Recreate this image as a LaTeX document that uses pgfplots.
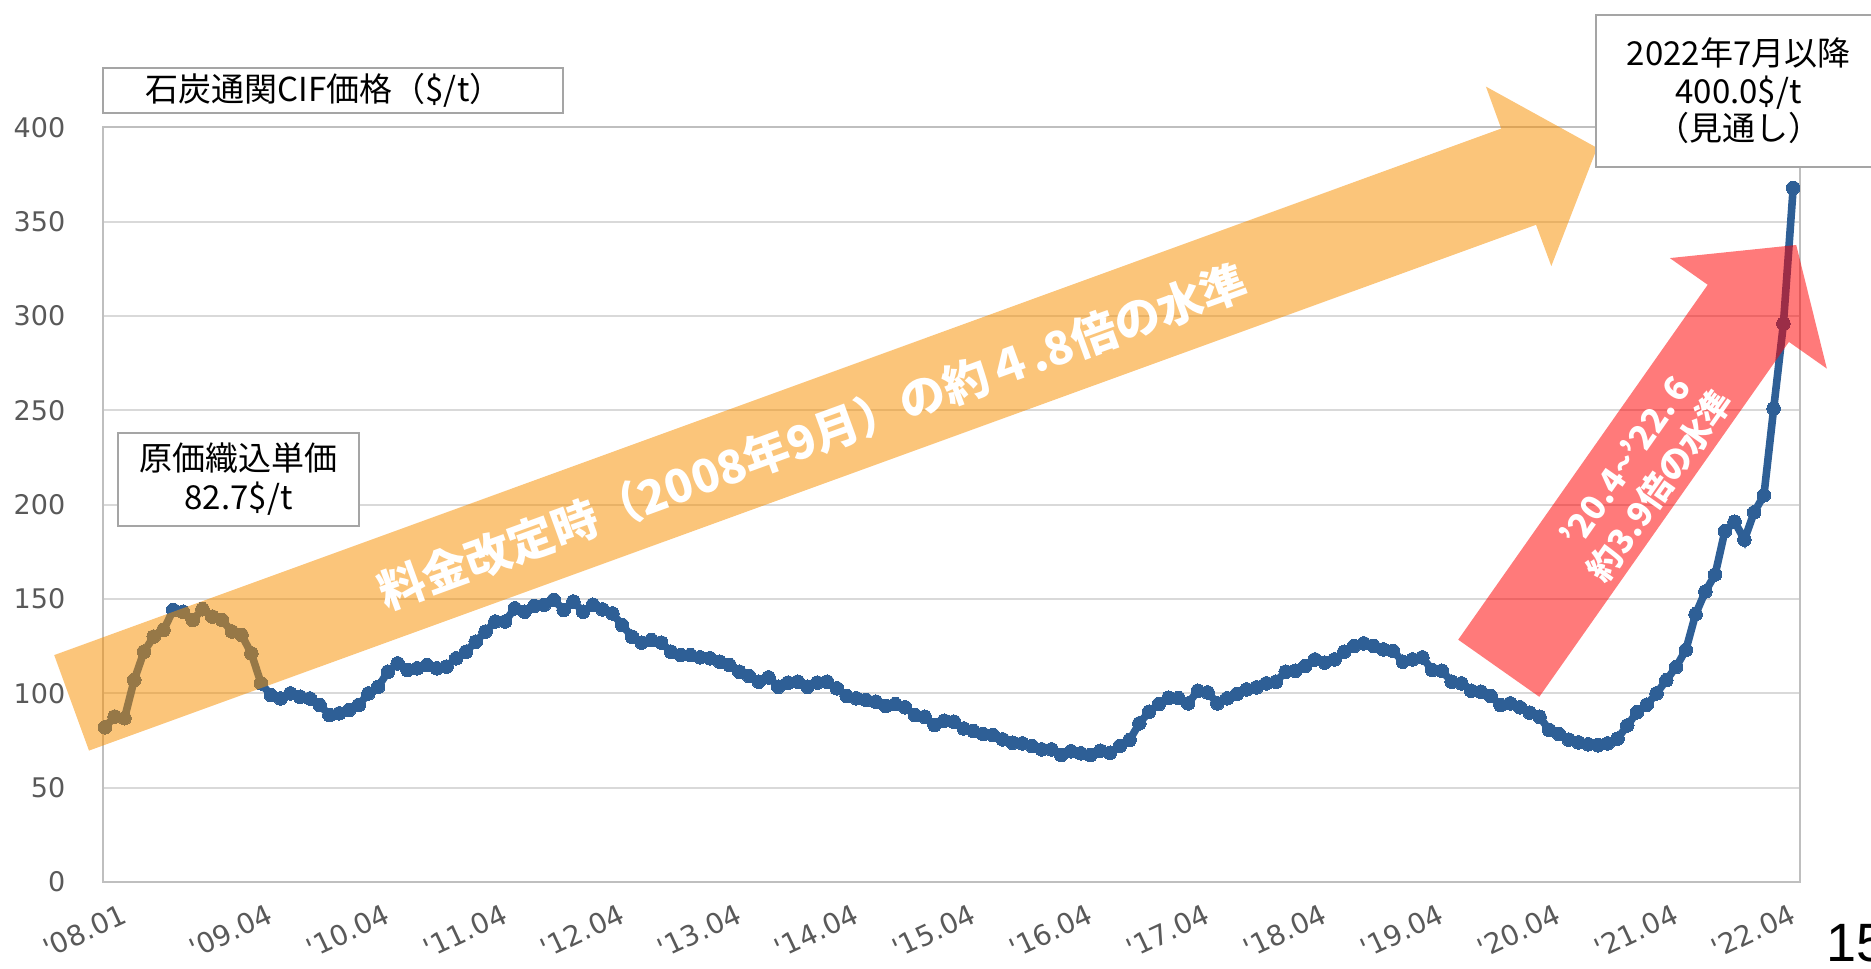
\documentclass[border=0pt]{standalone}
\usepackage{pgfplots}
\usepackage{pgfplotstable}
\pgfplotsset{compat=1.18}
\usepackage{fontspec}
\setmainfont{DejaVu Sans}
\newfontfamily\cjk{Noto Sans CJK JP}
\newfontfamily\arial{Liberation Sans}
\definecolor{lineblue}{RGB}{46,95,150}
\definecolor{tickgray}{RGB}{89,89,89}
\definecolor{gridgray}{RGB}{217,217,217}
\definecolor{framegray}{RGB}{191,191,191}
\definecolor{boxgray}{RGB}{165,165,165}
\definecolor{arroworange}{RGB}{247,143,0}
\definecolor{arrowred}{RGB}{255,0,0}

\pgfplotstableread{
i v
0 82.0
1 87.7
2 86.8
3 107.1
4 122.1
5 130.1
6 133.6
7 144.2
8 143.3
9 138.9
10 144.6
11 140.7
12 138.9
13 132.8
14 131.0
15 121.2
16 105.3
17 99.1
18 97.3
19 100.0
20 98.2
21 97.3
22 93.8
23 88.5
24 89.4
25 91.1
26 93.8
27 100.0
28 103.5
29 111.5
30 115.9
31 112.4
32 113.3
33 115.0
34 113.3
35 114.2
36 118.6
37 122.1
38 127.4
39 132.8
40 138.1
41 138.1
42 145.1
43 143.3
44 146.4
45 146.9
46 149.6
47 144.2
48 148.7
49 143.3
50 147.0
51 144.5
52 142.4
53 136.2
54 130.1
55 126.9
56 128.3
57 126.9
58 122.1
59 120.3
60 120.3
61 119.1
62 118.6
63 116.8
64 115.0
65 111.5
66 109.2
67 106.2
68 108.5
69 103.5
70 105.7
71 106.2
72 103.5
73 105.7
74 106.2
75 102.7
76 98.6
77 97.4
78 96.5
79 95.6
80 93.3
81 94.3
82 92.6
83 88.5
84 87.6
85 83.2
86 85.5
87 85.0
88 81.4
89 80.0
90 78.4
91 77.9
92 75.6
93 73.8
94 73.5
95 72.1
96 70.3
97 70.3
98 67.3
99 69.3
100 68.2
101 67.3
102 69.6
103 68.5
104 72.1
105 75.3
106 84.1
107 90.3
108 94.3
109 97.7
110 97.5
111 94.7
112 101.4
113 100.5
114 94.7
115 97.4
116 99.7
117 102.1
118 103.2
119 105.3
120 106.2
121 111.5
122 112.0
123 114.5
124 118.0
125 116.3
126 118.0
127 122.1
128 125.1
129 126.5
130 125.1
131 123.3
132 122.5
133 116.8
134 118.0
135 119.1
136 112.4
137 112.0
138 106.2
139 105.3
140 101.4
141 100.9
142 98.6
143 93.8
144 94.7
145 92.6
146 89.8
147 87.6
148 80.6
149 78.4
150 75.5
151 74.0
152 73.0
153 72.5
154 73.5
155 76.0
156 83.0
157 90.0
158 94.0
159 100.0
160 107.0
161 114.0
162 123.0
163 142.0
164 154.0
165 163.0
166 186.0
167 191.0
168 181.5
169 196.0
170 205.0
171 251.0
172 296.0
173 368.0
}\coal

\begin{document}
\begin{tikzpicture}
\useasboundingbox (0pt,0pt) rectangle (935.5pt,484pt);
\begin{axis}[
  at={(51.5pt,43pt)}, anchor=south west,
  scale only axis, width=848.5pt, height=377.25pt,
  xmin=-0.2, xmax=173.7, ymin=0, ymax=400,
  ytick={0,50,100,150,200,250,300,350,400},
  xtick={0,15,27,39,51,63,75,87,99,111,123,135,147,159,171},
  xticklabels={\textquotesingle08.01,\textquotesingle09.04,\textquotesingle10.04,\textquotesingle11.04,\textquotesingle12.04,\textquotesingle13.04,\textquotesingle14.04,\textquotesingle15.04,\textquotesingle16.04,\textquotesingle17.04,\textquotesingle18.04,\textquotesingle19.04,\textquotesingle20.04,\textquotesingle21.04,\textquotesingle22.04},
  ymajorgrids,
  major grid style={gridgray, line width=1pt},
  axis line style={framegray, line width=1pt},
  tick style={draw=none},
  /pgf/number format/assume math mode=true,
  yticklabel style={inner sep=0pt, xshift=-18.7pt, font=\fontsize{13.5}{16}\selectfont, text=tickgray},
  x tick label style={rotate=25, anchor=north east, inner sep=0pt, yshift=-12.5pt, xshift=2.5pt, font=\fontsize{14}{16}\selectfont, text=tickgray},
  clip=false,
]
\addplot[lineblue, line width=3.8pt, mark=*, mark size=3.4pt,
  mark options={fill=lineblue, draw=lineblue, line width=0pt}]
  table[x=i,y=v]{\coal};
\end{axis}
\begin{scope}[x=0.5pt,y=-0.5pt,shift={(0pt,484pt)}]
\fill[arroworange, opacity=0.52] (54.2,655.1) -- (1501.2,128.6) -- (1485.9,86.6) -- (1597.1,147.9) -- (1551.3,266.1) -- (1536.0,224.8) -- (89.0,750.6) -- cycle;
\fill[arrowred, opacity=0.52] (1458.2,639.7) -- (1707.7,284.8) -- (1669.8,258.1) -- (1796.2,245.0) -- (1826.8,368.6) -- (1788.9,341.9) -- (1539.3,696.8) -- cycle;
\node[rotate=20, text=white, font=\cjk\bfseries\fontsize{23}{27}\selectfont] at (812.6,436.7) {料金改定時（2008年9月）の約４.8倍の水準};
\node[rotate=54.9, text=white, align=center, font=\cjk\bfseries\fontsize{17}{21}\selectfont] at (1643,474) {’20.4\textasciitilde’22.\,6\\約3.9倍の水準};
\draw[boxgray, line width=1pt, fill=white] (102.6,68) rectangle (563,113.4);
\node[font=\cjk\fontsize{16.5}{19}\selectfont] at (324,90.7) {石炭通関CIF価格（\$/t）};
\draw[boxgray, line width=1pt, fill=white] (118,433) rectangle (359,526);
\node[align=center, font=\cjk\fontsize{16.5}{19.5}\selectfont] at (238.7,479) {原価織込単価\\82.7\$/t};
\draw[boxgray, line width=1pt, fill=white] (1596,15) rectangle (1880,167);
\node[align=center, font=\cjk\fontsize{16.5}{18.8}\selectfont] at (1738.6,91) {2022年7月以降\\400.0\$/t\\（見通し）};
\node[anchor=base west, inner sep=0pt, font=\arial\fontsize{27}{30}\selectfont] at (1826,961) {15};
\end{scope}
\end{tikzpicture}
\end{document}
